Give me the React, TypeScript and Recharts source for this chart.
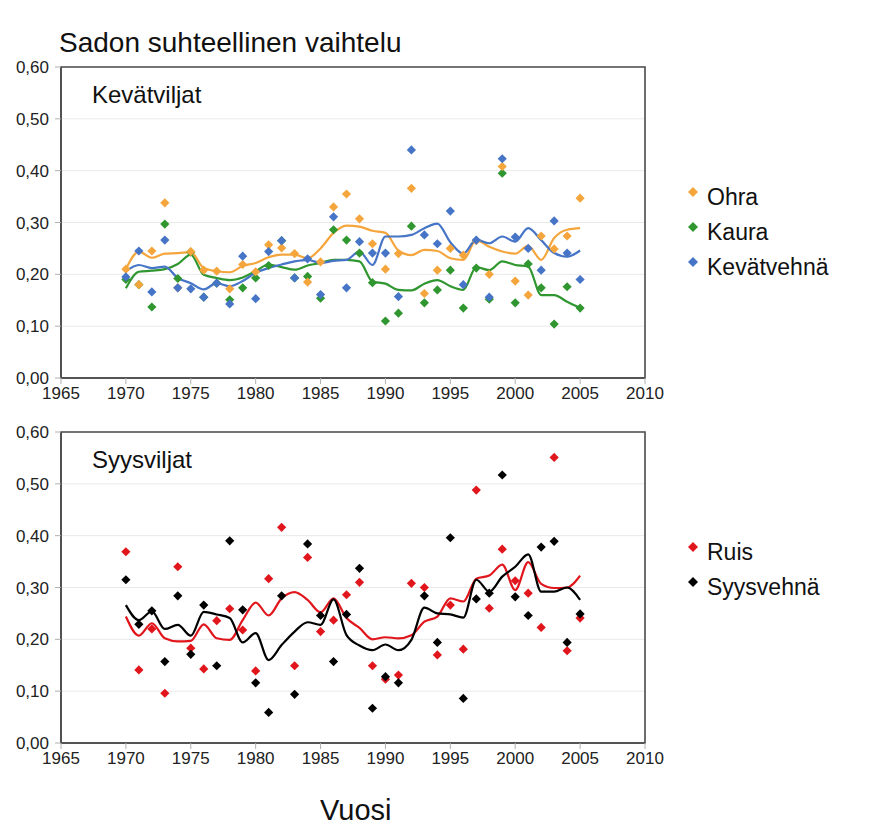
import { CartesianGrid, ComposedChart, Line, ReferenceArea, Scatter, XAxis, YAxis } from "recharts";

const YEARS = [
  1970, 1971, 1972, 1973, 1974, 1975, 1976, 1977, 1978, 1979, 1980, 1981,
  1982, 1983, 1984, 1985, 1986, 1987, 1988, 1989, 1990, 1991, 1992, 1993,
  1994, 1995, 1996, 1997, 1998, 1999, 2000, 2001, 2002, 2003, 2004, 2005,
];
const X_TICKS = [1965, 1970, 1975, 1980, 1985, 1990, 1995, 2000, 2005, 2010];
const Y_TICKS = [0, 0.1, 0.2, 0.3, 0.4, 0.5, 0.6];

// Kevätviljat: yearly values (diamonds) and the smoothed trend (line)
const OHRA = [
  0.21, 0.18, 0.245, 0.338, 0.174, 0.244, 0.208, 0.206, 0.172, 0.219, 0.205, 0.257,
  0.251, 0.24, 0.185, 0.224, 0.33, 0.355, 0.307, 0.259, 0.21, 0.24, 0.366, 0.163,
  0.208, 0.25, 0.237, 0.265, 0.2, 0.408, 0.187, 0.16, 0.274, 0.249, 0.274, 0.347,
];
const OHRA_TREND = [
  0.21, 0.244, 0.232, 0.24, 0.241, 0.243, 0.212, 0.206, 0.204, 0.216, 0.222, 0.233,
  0.238, 0.238, 0.231, 0.25, 0.28, 0.294, 0.292, 0.284, 0.28, 0.246, 0.237, 0.247,
  0.245, 0.231, 0.228, 0.266, 0.253, 0.244, 0.24, 0.255, 0.228, 0.27, 0.286, 0.289,
];
const KAURA = [
  0.19, 0.18, 0.137, 0.297, 0.192, 0.243, 0.156, 0.183, 0.151, 0.174, 0.193, 0.217,
  0.265, 0.193, 0.196, 0.154, 0.286, 0.266, 0.241, 0.184, 0.11, 0.125, 0.293, 0.145,
  0.17, 0.208, 0.135, 0.212, 0.152, 0.395, 0.145, 0.22, 0.174, 0.104, 0.176, 0.135,
];
const KAURA_TREND = [
  0.173, 0.205, 0.207, 0.21, 0.22, 0.238, 0.199, 0.193, 0.189, 0.194, 0.206, 0.219,
  0.214, 0.209, 0.217, 0.222, 0.228, 0.228, 0.225, 0.186, 0.182, 0.17, 0.169, 0.182,
  0.189, 0.177, 0.17, 0.214, 0.208, 0.225, 0.218, 0.215, 0.16, 0.16, 0.147, 0.135,
];
const KEVATVEHNA = [
  0.195, 0.245, 0.166, 0.266, 0.174, 0.172, 0.156, 0.183, 0.143, 0.235, 0.153, 0.244,
  0.265, 0.193, 0.23, 0.161, 0.311, 0.174, 0.263, 0.241, 0.241, 0.157, 0.44, 0.276,
  0.259, 0.322, 0.18, 0.266, 0.156, 0.423, 0.272, 0.25, 0.208, 0.303, 0.241, 0.19,
];
const KEVATVEHNA_TREND = [
  0.206, 0.218, 0.212, 0.215, 0.193, 0.183, 0.171, 0.183, 0.177, 0.187, 0.203, 0.212,
  0.219, 0.225, 0.228, 0.222, 0.226, 0.228, 0.244, 0.218, 0.273, 0.273, 0.276, 0.289,
  0.298, 0.262, 0.24, 0.267, 0.26, 0.273, 0.263, 0.289, 0.266, 0.241, 0.234, 0.246,
];

// Syysviljat
const RUIS = [
  0.369, 0.141, 0.22, 0.096, 0.34, 0.183, 0.143, 0.236, 0.259, 0.218, 0.139, 0.317,
  0.416, 0.149, 0.358, 0.215, 0.237, 0.286, 0.31, 0.149, 0.123, 0.131, 0.308, 0.3,
  0.17, 0.266, 0.181, 0.488, 0.26, 0.374, 0.313, 0.289, 0.223, 0.551, 0.178, 0.241,
];
const RUIS_TREND = [
  0.244, 0.207, 0.231, 0.202, 0.196, 0.197, 0.229, 0.202, 0.199, 0.237, 0.271, 0.246,
  0.279, 0.291, 0.276, 0.252, 0.279, 0.241, 0.222, 0.2, 0.204, 0.202, 0.208, 0.234,
  0.244, 0.279, 0.273, 0.317, 0.323, 0.344, 0.295, 0.349, 0.307, 0.299, 0.3, 0.323,
];
const SYYSVEHNA = [
  0.315, 0.229, 0.255, 0.157, 0.284, 0.171, 0.266, 0.149, 0.39, 0.257, 0.116, 0.059,
  0.284, 0.094, 0.384, 0.246, 0.157, 0.248, 0.337, 0.067, 0.128, 0.116, null, 0.284,
  0.194, 0.396, 0.086, 0.278, 0.289, 0.517, 0.282, 0.246, 0.378, 0.389, 0.194, 0.249,
];
const SYYSVEHNA_TREND = [
  0.266, 0.237, 0.254, 0.22, 0.228, 0.207, 0.253, 0.248, 0.241, 0.194, 0.212, 0.16,
  0.189, 0.215, 0.233, 0.228, 0.277, 0.208, 0.188, 0.179, 0.19, 0.179, 0.199, 0.261,
  0.25, 0.248, 0.242, 0.315, 0.292, 0.321, 0.34, 0.364, 0.292, 0.292, 0.3, 0.276,
];

type Series = {
  key: string;
  name: string;
  color: string;
  points: (number | null)[];
  trend: number[];
};

const SPRING: Series[] = [
  { key: "kaura", name: "Kaura", color: "#2f9630", points: KAURA, trend: KAURA_TREND },
  { key: "ohra", name: "Ohra", color: "#f4a53c", points: OHRA, trend: OHRA_TREND },
  { key: "kevat", name: "Kevätvehnä", color: "#4674c6", points: KEVATVEHNA, trend: KEVATVEHNA_TREND },
];
const SPRING_LEGEND = ["ohra", "kaura", "kevat"];

const WINTER: Series[] = [
  { key: "ruis", name: "Ruis", color: "#e1161c", points: RUIS, trend: RUIS_TREND },
  { key: "syys", name: "Syysvehnä", color: "#000000", points: SYYSVEHNA, trend: SYYSVEHNA_TREND },
];
const WINTER_LEGEND = ["ruis", "syys"];

const FONT = '"Liberation Sans", Arial, sans-serif';
const W = 894;
const H = 420;
const AXIS = "#4a4a4a";
const TICK = { fontSize: 17, fill: "#222", fontFamily: FONT };

function diamond(color: string, key: string, r = 4.6) {
  return (props: any) => {
    const { cx, cy, payload } = props;
    if (payload?.[key] == null || !Number.isFinite(cx) || !Number.isFinite(cy)) return <g />;
    return <path d={`M${cx},${cy - r}L${cx + r},${cy}L${cx},${cy + r}L${cx - r},${cy}Z`} fill={color} />;
  };
}

const fmt = (v: number) => v.toFixed(2).replace(".", ",");

function Panel({ top, title, series, legend, legendTop }: {
  top: number;
  title: string;
  series: Series[];
  legend: string[];
  legendTop: number;
}) {
  const rows = YEARS.map((year, i) => {
    const row: Record<string, number | null> = { year };
    series.forEach((s) => {
      row[s.key] = s.points[i];
      row[s.key + "Trend"] = s.trend[i];
    });
    return row;
  });

  return (
    <div style={{ position: "absolute", left: 0, top, width: W, height: H }}>
      <ComposedChart width={W} height={H} data={rows} margin={{ top: 67, right: 249, bottom: 12, left: 0 }}>
        <CartesianGrid vertical={false} stroke="#e9e9e9" />
        <XAxis
          dataKey="year"
          type="number"
          domain={[1965, 2010]}
          ticks={X_TICKS}
          interval={0}
          height={30}
          tickSize={6}
          tickMargin={3}
          axisLine={{ stroke: AXIS, strokeWidth: 1.6 }}
          tickLine={{ stroke: "#b0b0b0" }}
          tick={TICK}
        />
        <YAxis
          type="number"
          domain={[0, 0.6]}
          ticks={Y_TICKS}
          interval={0}
          width={61}
          tickSize={6}
          tickMargin={6}
          tickFormatter={fmt}
          axisLine={{ stroke: AXIS, strokeWidth: 1.6 }}
          tickLine={{ stroke: "#b0b0b0" }}
          tick={TICK}
        />
        <ReferenceArea x1={1965} x2={2010} y1={0} y2={0.6} fill="none" stroke={AXIS} strokeWidth={1.6} ifOverflow="visible" />
        {series.map((s) => (
          <Line
            key={s.key + "Trend"}
            dataKey={s.key + "Trend"}
            type="monotone"
            stroke={s.color}
            strokeWidth={2.2}
            dot={false}
            activeDot={false}
            isAnimationActive={false}
          />
        ))}
        {series.map((s) => (
          <Scatter key={s.key} dataKey={s.key} shape={diamond(s.color, s.key)} isAnimationActive={false} />
        ))}
      </ComposedChart>

      <div style={{ position: "absolute", left: 92, top: 83, fontFamily: FONT, fontSize: 24, lineHeight: 1, color: "#111" }}>
        {title}
      </div>

      {legend.map((key, i) => {
        const s = series.find((x) => x.key === key)!;
        const cy = legendTop + i * 35;
        return (
          <div key={key}>
            <svg style={{ position: "absolute", left: 687, top: cy - 11 }} width={12} height={12}>
              <path d="M6,1L11,6L6,11L1,6Z" fill={s.color} />
            </svg>
            <div style={{ position: "absolute", left: 707, top: cy - 12, fontFamily: FONT, fontSize: 23, lineHeight: "24px", color: "#111" }}>
              {s.name}
            </div>
          </div>
        );
      })}
    </div>
  );
}

export default function App() {
  return (
    <div style={{ position: "absolute", left: 0, top: 0, width: W, height: 828, background: "#fff" }}>
      <div style={{ position: "absolute", left: 59, top: 29, fontFamily: FONT, fontSize: 28, lineHeight: 1, color: "#111" }}>
        Sadon suhteellinen vaihtelu
      </div>
      <Panel top={0} title="Kevätviljat" series={SPRING} legend={SPRING_LEGEND} legendTop={197} />
      <Panel top={365} title="Syysviljat" series={WINTER} legend={WINTER_LEGEND} legendTop={187} />
      <div style={{ position: "absolute", left: 320, top: 796, fontFamily: FONT, fontSize: 29, lineHeight: 1, color: "#111" }}>
        Vuosi
      </div>
    </div>
  );
}
